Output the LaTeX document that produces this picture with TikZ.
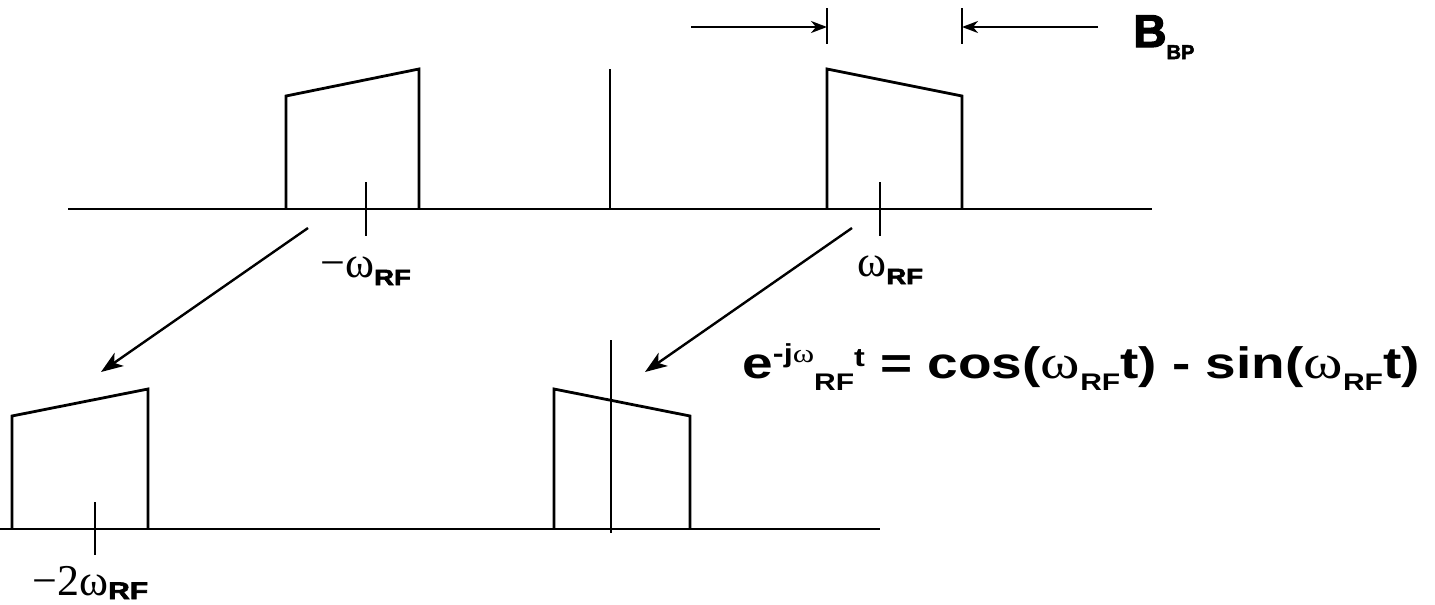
\documentclass[tikz,border=0pt]{standalone}
\usepackage{fontspec}
\setmainfont{Liberation Sans}
\newfontfamily\greekfont{Liberation Serif}
\newfontfamily\heavyfont[FakeBold=2.5]{Liberation Sans Bold}
\usetikzlibrary{arrows.meta, positioning}

\newcommand{\rfsub}[2]{\raisebox{#1}{\scalebox{1.25}[1]{\heavyfont\fontsize{#2}{#2}\selectfont RF}}}
\newcommand{\eqsub}{\raisebox{-6pt}{\fontsize{12}{12}\selectfont RF}}
\newcommand{\eqw}{{\greekfont\mdseries\fontsize{24}{24}\selectfont ω}}

\tikzset{
  spec/.style={line width=1.4pt},
  mixarrow/.style={line width=1.2pt, -{Stealth[length=11pt, width=8pt, inset=3pt]}},
  bwarrow/.style={line width=1.2pt, -{Stealth[length=8pt, width=6pt, inset=2.5pt]}},
  freqlabel/.style={anchor=base west, inner sep=0pt, font=\greekfont\fontsize{22}{22}\selectfont},
}

\begin{document}
\begin{tikzpicture}[x=0.5pt, y=-0.5pt]
  \useasboundingbox (0,0) rectangle (1435,605);

  \draw[spec] (68,209) -- (1152,209);
  \draw[spec] (286,209) -- (286,96) -- (419,69) -- (419,209);
  \draw[spec] (366,182) -- (366,236);
  \draw[spec] (610,69) -- (610,209);
  \draw[spec] (827,209) -- (827,69) -- (962,96) -- (962,209);
  \draw[spec] (880,182) -- (880,236);

  \draw[spec] (827,8) -- (827,44);
  \draw[spec] (962,8) -- (962,44);
  \coordinate (bwleft) at (827,27);
  \coordinate (bwright) at (962,27);
  \coordinate (bwleftstart) at (691,27);
  \coordinate (bwrightstart) at (1098,27);
  \draw[bwarrow] (bwleftstart) -- (bwleft);
  \draw[bwarrow] (bwrightstart) -- (bwright);
  \node[anchor=base west, inner sep=0pt] (bbp) at (1133,47)
    {\heavyfont\fontsize{23}{23}\selectfont B\raisebox{-6pt}{\fontsize{10}{10}\selectfont BP}};

  \node[freqlabel] (negrf) at (320,277) {−ω\rfsub{-4pt}{11}};
  \node[freqlabel] (posrf) at (857,276) {ω\rfsub{-4pt}{11}};

  \draw[spec] (0,529) -- (880,529);
  \draw[spec] (12,529) -- (12,416) -- (148,389) -- (148,529);
  \draw[spec] (95,502) -- (95,555);
  \draw[spec] (554,529) -- (554,389) -- (690,416) -- (690,529);
  \draw[spec] (611,340) -- (611,533);

  \node[freqlabel] (neg2rf) at (32,595) {−2ω\rfsub{-2pt}{12}};

  \coordinate (negfrom) at (308,228);
  \coordinate (negto) at (101,372);
  \coordinate (posfrom) at (852,228);
  \coordinate (posto) at (645,372);
  \draw[mixarrow] (negfrom) -- (negto);
  \draw[mixarrow] (posfrom) -- (posto);

  \node[anchor=base west, inner sep=0pt] (mixeq) at (742,378)
    {\scalebox{1.25}[1]{\bfseries\fontsize{22}{22}\selectfont e\raisebox{8pt}{\fontsize{13}{13}\selectfont -j{\greekfont\mdseries ω}}\eqsub\raisebox{6pt}{\fontsize{13}{13}\selectfont t}
     = cos(\eqw\eqsub t) - sin(\eqw\eqsub t)}};
\end{tikzpicture}
\end{document}
